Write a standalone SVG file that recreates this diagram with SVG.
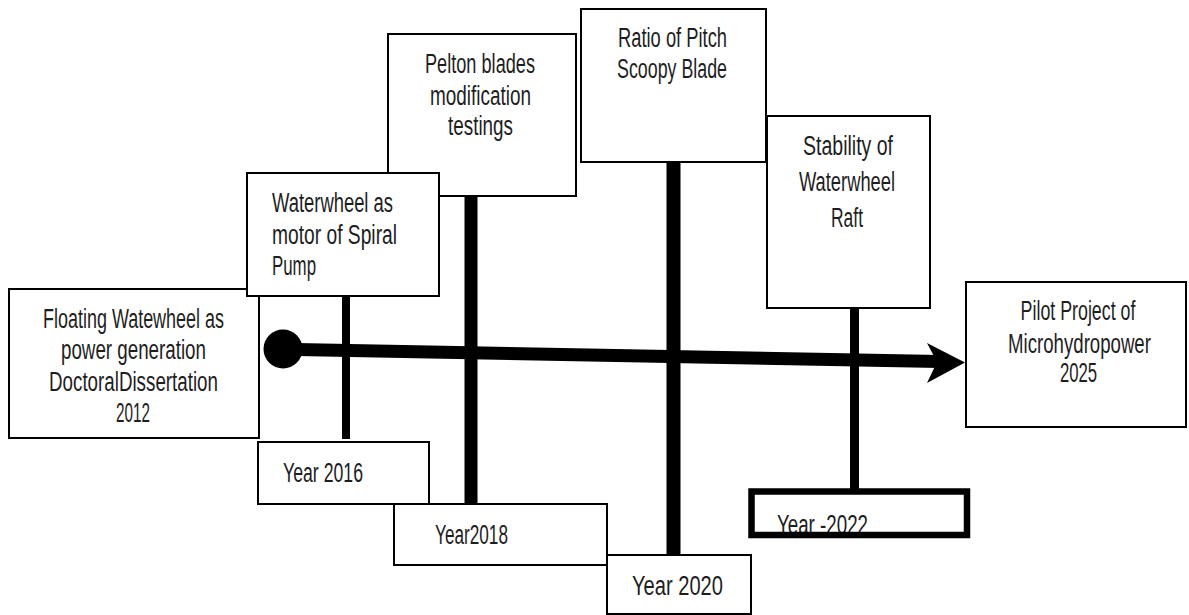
<svg xmlns="http://www.w3.org/2000/svg" width="1189" height="615" viewBox="0 0 1189 615">
<style>
.box{fill:#fff;stroke:#000;stroke-width:2}
.t{font-family:"Liberation Sans",Arial,sans-serif;font-size:27px;fill:#1e1e1e}
.m{text-anchor:middle}
.v{stroke:#000;fill:none}
</style>
<rect width="1189" height="615" fill="#fff"/>
<g id="n-2012">
<rect class="box" x="9" y="289" width="250" height="149"/>
<text class="t" x="43" y="328" textLength="181" lengthAdjust="spacingAndGlyphs">Floating Watewheel as</text>
<text class="t" x="61" y="359" textLength="145" lengthAdjust="spacingAndGlyphs">power generation</text>
<text class="t" x="49" y="391" textLength="169" lengthAdjust="spacingAndGlyphs">DoctoralDissertation</text>
<text class="t" x="116" y="422" textLength="34" lengthAdjust="spacingAndGlyphs">2012</text>
</g>
<g id="n-pelton">
<rect class="box" x="388" y="34" width="188" height="162"/>
<text class="t" x="425" y="73" textLength="110" lengthAdjust="spacingAndGlyphs">Pelton blades</text>
<text class="t" x="430" y="105" textLength="101" lengthAdjust="spacingAndGlyphs">modification</text>
<text class="t" x="448" y="135" textLength="65" lengthAdjust="spacingAndGlyphs">testings</text>
</g>
<g id="n-spiral">
<rect class="box" x="247" y="173" width="192" height="123"/>
<text class="t" x="272" y="212" textLength="121" lengthAdjust="spacingAndGlyphs">Waterwheel as</text>
<text class="t" x="272" y="244" textLength="125" lengthAdjust="spacingAndGlyphs">motor of Spiral</text>
<text class="t" x="272" y="275" textLength="44" lengthAdjust="spacingAndGlyphs">Pump</text>
</g>
<g id="n-ratio">
<rect class="box" x="581" y="9" width="185" height="153"/>
<text class="t" x="618" y="47" textLength="109" lengthAdjust="spacingAndGlyphs">Ratio of Pitch</text>
<text class="t" x="617" y="78" textLength="110" lengthAdjust="spacingAndGlyphs">Scoopy Blade</text>
</g>
<g id="n-stability">
<rect class="box" x="767" y="116" width="163" height="192"/>
<text class="t" x="803" y="155" textLength="90" lengthAdjust="spacingAndGlyphs">Stability of</text>
<text class="t" x="799" y="191" textLength="96" lengthAdjust="spacingAndGlyphs">Waterwheel</text>
<text class="t" x="831" y="227" textLength="32" lengthAdjust="spacingAndGlyphs">Raft</text>
</g>
<g id="n-2025">
<rect class="box" x="966" y="282" width="220" height="145"/>
<text class="t m" transform="translate(1078,320) scale(0.66,1)">Pilot Project of</text>
<text class="t m" transform="translate(1079.5,353) scale(0.69,1)">Microhydropower</text>
<text class="t m" transform="translate(1078.5,382) scale(0.62,1)">2025</text>
</g>
<g id="y-2016">
<rect class="box" x="258" y="442" width="171" height="62"/>
<text class="t" x="283" y="482" textLength="80" lengthAdjust="spacingAndGlyphs">Year 2016</text>
</g>
<g id="y-2018">
<rect class="box" x="394" y="504" width="213" height="61"/>
<text class="t" x="435" y="544" textLength="73" lengthAdjust="spacingAndGlyphs">Year2018</text>
</g>
<g id="y-2020">
<rect class="box" x="607" y="555" width="144" height="59"/>
<text class="t" x="632" y="595" textLength="91" lengthAdjust="spacingAndGlyphs">Year 2020</text>
</g>
<g id="y-2022">
<rect x="751.5" y="491.5" width="215.5" height="43.5" fill="#fff"/>
<text class="t" x="777" y="534" textLength="91" lengthAdjust="spacingAndGlyphs">Year -2022</text>
<rect x="751.5" y="491.5" width="215.5" height="43.5" fill="none" stroke="#000" stroke-width="6.5"/>
</g>
<g id="connectors">
<line class="v" x1="346" y1="296" x2="346" y2="439" stroke-width="8"/>
<line class="v" x1="471" y1="196" x2="471" y2="504" stroke-width="13"/>
<line class="v" x1="673.5" y1="162" x2="673.5" y2="555" stroke-width="14"/>
<line class="v" x1="854.5" y1="308" x2="854.5" y2="489" stroke-width="9"/>
<line class="v" x1="283" y1="349.3" x2="940" y2="361.6" stroke-width="13"/>
<circle cx="283" cy="349" r="19.5" fill="#000"/>
<polygon points="965,362.5 927,343 937,362 927,383" fill="#000"/>
</g>
</svg>
